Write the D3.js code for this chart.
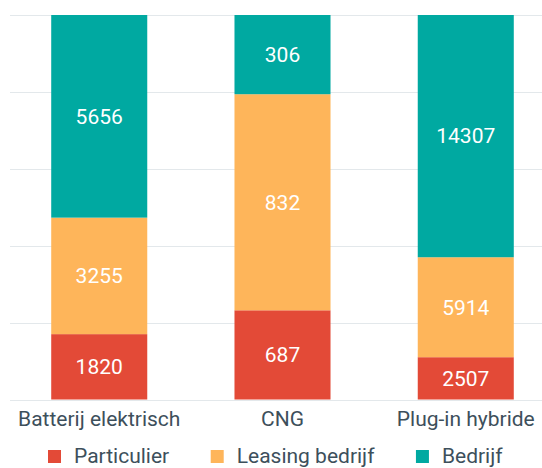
<!DOCTYPE html>
<html>
<head>
<meta charset="utf-8">
<script src="https://cdn.jsdelivr.net/npm/d3@7/dist/d3.min.js"></script>
<style>
  body { margin: 0; background: #fff; }
  svg { display: block; font-family: Roboto, "Noto Sans", sans-serif; }
</style>
</head>
<body>
<div id="chart"></div>
<script>
// categories and series (registrations per type of owner)
const categories = ['Batterij elektrisch', 'CNG', 'Plug-in hybride'];
const seriesNames = ['Particulier', 'Leasing bedrijf', 'Bedrijf'];
// numbers printed in the bars
const particulier = [1820, 687, 2507];
const leasing = [3255, 832, 5914];
const bedrijf = [5656, 306, 14307];
// bar heights (percent of the bar)
const shareParticulier = [17.0, 23.2, 11.0];
const shareLeasing = [30.3, 56.2, 26.0];
const shareBedrijf = [52.7, 20.6, 63.0];
const gridTicks = [0, 20, 40, 60, 80, 100];

const colors = ['#e34a37', '#feb55a', '#00a9a1'];
const textColor = '#3d4f5b';

const width = 542, height = 468;
const margin = {top: 15, right: 0, bottom: 68, left: 10};

const svg = d3.select('#chart').append('svg')
    .attr('width', width)
    .attr('height', height);

const values = [particulier, leasing, bedrijf];
const shares = [shareParticulier, shareLeasing, shareBedrijf];

const rows = categories.map((c, i) => {
    const row = {category: c};
    seriesNames.forEach((s, j) => {
        row[s] = shares[j][i];
        row[s + '_raw'] = values[j][i];
    });
    return row;
});

const stacked = d3.stack().keys(seriesNames)(rows);

const x = d3.scaleBand()
    .domain(categories)
    .range([7.6, 557.4])
    .paddingInner(0.476)
    .paddingOuter(0.238);

const y = d3.scaleLinear()
    .domain([0, 100])
    .range([height - margin.bottom - 0.5, margin.top]);

// gridlines
svg.append('g')
    .selectAll('line')
    .data(gridTicks)
    .join('line')
    .attr('x1', margin.left)
    .attr('x2', width)
    .attr('y1', d => Math.round(y(d)) + 0.5)
    .attr('y2', d => Math.round(y(d)) + 0.5)
    .attr('stroke', '#e3e8eb')
    .attr('stroke-width', 1);

// bars
const layer = svg.append('g')
    .selectAll('g')
    .data(stacked)
    .join('g')
    .attr('fill', (d, i) => colors[i]);

layer.selectAll('rect')
    .data(d => d.map(p => Object.assign(p, {key: d.key})))
    .join('rect')
    .attr('x', d => x(d.data.category))
    .attr('width', x.bandwidth())
    .attr('y', d => y(d[1]))
    .attr('height', d => y(d[0]) - y(d[1]));

// value labels
layer.selectAll('text')
    .data(d => d)
    .join('text')
    .attr('x', d => x(d.data.category) + x.bandwidth() / 2)
    .attr('y', d => (y(d[0]) + y(d[1])) / 2)
    .attr('dy', '0.35em')
    .attr('text-anchor', 'middle')
    .attr('fill', '#fff')
    .style('font-size', '21px')
    .text(d => d.data[d.key + '_raw']);

// category axis labels
svg.append('g')
    .selectAll('text')
    .data(categories)
    .join('text')
    .attr('x', d => x(d) + x.bandwidth() / 2)
    .attr('y', 426)
    .attr('text-anchor', 'middle')
    .attr('fill', textColor)
    .style('font-size', '21px')
    .text(d => d);

// legend
const legend = svg.append('g').attr('transform', 'translate(48, 450)');
let lx = 0;
seriesNames.forEach((s, i) => {
    const g = legend.append('g').attr('transform', `translate(${lx}, 0)`);
    g.append('rect')
        .attr('width', 13)
        .attr('height', 13)
        .attr('fill', colors[i]);
    const t = g.append('text')
        .attr('x', 26)
        .attr('y', 13)
        .attr('fill', textColor)
        .style('font-size', '21px')
        .text(s);
    lx += 26 + t.node().getComputedTextLength() + 41.5;
});
</script>
</body>
</html>
